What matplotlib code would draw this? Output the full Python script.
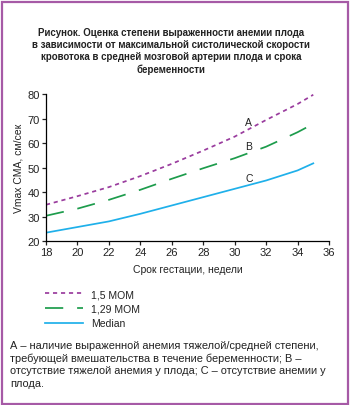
import matplotlib
matplotlib.use("Agg")
import matplotlib.pyplot as plt
from matplotlib.lines import Line2D
from matplotlib.patches import Rectangle

plt.rcParams['font.family'] = ['Liberation Sans', 'DejaVu Sans']

weeks = [18, 20, 22, 24, 26, 28, 30, 32, 34, 35]
mom15 = [34.8, 38.3, 42.0, 46.5, 51.5, 56.9, 62.6, 69.4, 75.9, 79.7]
mom129 = [30.3, 33.2, 36.8, 40.9, 45.4, 49.7, 53.8, 58.5, 64.4, 67.8]
median = [23.4, 25.7, 28.0, 31.1, 34.5, 37.9, 41.3, 44.7, 48.8, 51.7]
series_labels = ["1,5 MOM", "1,29 MOM", "Median"]
curve_letters = ["A", "B", "C"]
xticks = [18, 20, 22, 24, 26, 28, 30, 32, 34, 36]
yticks = [20, 30, 40, 50, 60, 70, 80]

title = ("Рисунок. Оценка степени выраженности анемии плода\n"
         "в зависимости от максимальной систолической скорости\n"
         "кровотока в средней мозговой артерии плода и срока\n"
         "беременности")
footnote = ("А – наличие выраженной анемия тяжелой/средней степени,\n"
            "требующей вмешательства в течение беременности; В –\n"
            "отсутствие тяжелой анемия у плода; С – отсутствие анемии у\n"
            "плода.")

purple = "#9a3c9e"
green = "#1d9c4c"
cyan = "#1fb0ea"
border = "#a65aa6"

W, H = 350, 406
fig = plt.figure(figsize=(W / 100, H / 100), dpi=100)
fig.patch.set_facecolor("white")

ax = fig.add_axes([46 / W, 1 - 242 / H, 283 / W, 147 / H])
lw = 1.25
ax.plot(weeks, mom15, color=purple, lw=lw, dashes=(2.4, 2.2))
ax.plot(weeks, mom129, color=green, lw=lw, dashes=(10.5, 8))
ax.plot(weeks, median, color=cyan, lw=lw)

ax.set_xlim(18, 36)
ax.set_ylim(20, 80)
ax.set_xticks(xticks)
ax.set_yticks(yticks)
for s in ["top", "right"]:
    ax.spines[s].set_visible(False)
for s in ["left", "bottom"]:
    ax.spines[s].set_linewidth(0.9)
ax.tick_params(labelsize=8, length=3, width=0.9, pad=1.5, colors="#222222")
ax.set_xlabel("Срок гестации, недели", fontsize=7.5, labelpad=5, color="#222222")
ax.set_ylabel("Vmax СМА, см/сек", fontsize=7.5, labelpad=3, color="#222222")

for letter, yv in zip(curve_letters, [68.7, 58.9, 45.6]):
    ax.text(30.9, yv, letter, fontsize=7.5, ha="center", va="center", color="#222222")

fig.text(171 / W, 1 - 28 / H, title, ha="center", va="top", fontsize=7,
         fontweight="bold", linespacing=1.25, color="#222222")

handles = [Line2D([], [], color=purple, lw=lw, dashes=(2.4, 2.2)),
           Line2D([], [], color=green, lw=lw, dashes=(10.5, 8)),
           Line2D([], [], color=cyan, lw=lw)]
fig.legend(handles, series_labels, loc="upper left",
           bbox_to_anchor=(45 / W, 1 - 290 / H), frameon=False, fontsize=7.5,
           handlelength=3.6, handletextpad=0.8, labelspacing=0.45,
           borderpad=0, borderaxespad=0, labelcolor="#222222")

fig.text(10 / W, 1 - 341 / H, footnote, ha="left", va="top", fontsize=7.9,
         linespacing=1.3, color="#222222")

fig.patches.append(Rectangle((1.5 / W, 1.5 / H), (W - 4) / W, (H - 4) / H,
                             transform=fig.transFigure, fill=False,
                             edgecolor=border, lw=1.6))

fig.savefig("out.png", dpi=100)
